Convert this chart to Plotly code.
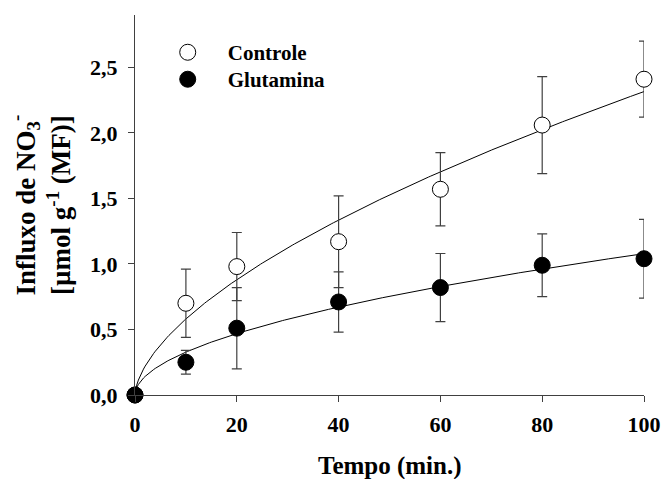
import numpy as np
import plotly.graph_objects as go

tempo = [0, 10, 20, 40, 60, 80, 100]
controle = [0.0, 0.70, 0.98, 1.17, 1.57, 2.06, 2.41]
controle_err = [0.0, 0.26, 0.26, 0.35, 0.28, 0.37, 0.29]
glutamina = [0.0, 0.25, 0.51, 0.71, 0.82, 0.99, 1.04]
glutamina_err = [0.0, 0.09, 0.31, 0.23, 0.26, 0.24, 0.30]

x_ticks = [0, 20, 40, 60, 80, 100]
y_ticks = [0.0, 0.5, 1.0, 1.5, 2.0, 2.5]
y_tick_labels = ["0,0", "0,5", "1,0", "1,5", "2,0", "2,5"]


def power_fit(x, y):
    x = np.asarray(x, float)
    y = np.asarray(y, float)
    best = None
    for b in np.linspace(0.2, 1.2, 1001):
        f = x ** b
        a = (f @ y) / (f @ f)
        sse = ((y - a * f) ** 2).sum()
        if best is None or sse < best[0]:
            best = (sse, a, b)
    return best[1], best[2]


xs = np.linspace(0, 100, 301)
FONT = "Liberation Serif, Times New Roman, serif"

fig = go.Figure()
for name, ys in (("Controle", controle), ("Glutamina", glutamina)):
    a, b = power_fit(tempo, ys)
    fig.add_trace(go.Scatter(x=xs, y=a * xs ** b, mode="lines",
                             line=dict(color="black", width=1),
                             showlegend=False, hoverinfo="skip"))

fig.add_trace(go.Scatter(
    x=tempo, y=controle, mode="markers", name="Controle", legend="legend",
    marker=dict(symbol="circle", size=16, color="white",
                line=dict(color="black", width=1)),
    error_y=dict(type="data", array=controle_err, color="#404040",
                 thickness=1.2, width=5),
    cliponaxis=False))
fig.add_trace(go.Scatter(
    x=tempo, y=glutamina, mode="markers", name="Glutamina", legend="legend2",
    marker=dict(symbol="circle", size=16, color="black",
                line=dict(color="black", width=1)),
    error_y=dict(type="data", array=glutamina_err, color="#404040",
                 thickness=1.2, width=5),
    cliponaxis=False))

legend_font = dict(family=FONT, size=21, weight="bold")
fig.update_layout(
    width=665, height=479,
    margin=dict(l=135, r=21, t=15, b=84),
    plot_bgcolor="white", paper_bgcolor="white",
    font=dict(family=FONT, color="black", size=21),
    showlegend=True,
    legend=dict(x=0.025, y=0.955, xanchor="left", yanchor="top",
                bgcolor="rgba(0,0,0,0)", itemwidth=70, font=legend_font),
    legend2=dict(x=0.025, y=0.884, xanchor="left", yanchor="top",
                 bgcolor="rgba(0,0,0,0)", itemwidth=70, font=legend_font),
    xaxis=dict(range=[0, 100], tickvals=x_ticks, ticks="outside",
               ticklen=6, tickwidth=1.2, tickcolor="#404040",
               showline=True, linecolor="#404040", linewidth=1.3,
               showgrid=False, zeroline=False, ticklabelstandoff=3,
               automargin=False,
               tickfont=dict(family=FONT, size=22, weight="bold")),
    yaxis=dict(range=[0, 2.9], tickvals=y_ticks, ticktext=y_tick_labels,
               ticks="outside", ticklen=6, tickwidth=1.2, tickcolor="#404040",
               showline=True, linecolor="#404040", linewidth=1.3,
               showgrid=False, zeroline=False, ticklabelstandoff=6,
               automargin=False,
               tickfont=dict(family=FONT, size=22, weight="bold")),
    annotations=[
        dict(text="Influxo de NO<sub>3</sub><sup>-</sup><br>[µmol g<sup>-1</sup> (MF)]",
             xref="paper", yref="paper", x=-0.114, y=0.5,
             xanchor="right", yanchor="middle", textangle=-90, showarrow=False,
             font=dict(family=FONT, size=27, weight="bold")),
        dict(text="Tempo (min.)", xref="paper", yref="paper", x=0.5, y=-0.187,
             xanchor="center", yanchor="middle", showarrow=False,
             font=dict(family=FONT, size=25, weight="bold")),
    ],
)

fig.write_html("out.html")
